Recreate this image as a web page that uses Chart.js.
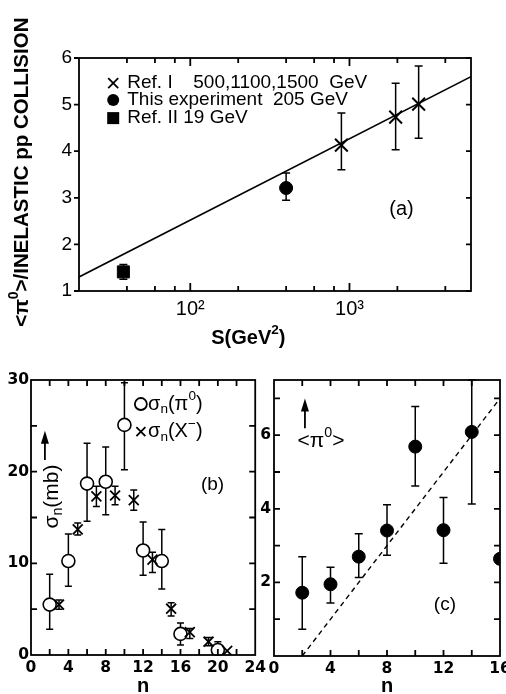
<!DOCTYPE html>
<html><head><meta charset="utf-8">
<script src="https://cdn.jsdelivr.net/npm/chart.js@4.4.1/dist/chart.umd.min.js"></script>
<style>
html,body{margin:0;padding:0;background:#fff;}
#wrap{position:relative;width:506px;height:694px;overflow:hidden;background:#fff;}
canvas{position:absolute;}
</style></head><body>
<div id="wrap">
<canvas id="ca" style="left:0;top:0"></canvas>
<canvas id="cb" style="left:0;top:340px"></canvas>
<canvas id="cc" style="left:258px;top:340px"></canvas>
</div>
<script>
// ---------- Panel (a) data ----------
const sRef1 = [890, 1950, 2720];
const piRef1 = [4.13, 4.73, 5.01];
const piRef1Lo = [3.60, 4.03, 4.28];
const piRef1Hi = [4.82, 5.46, 5.83];
const sThis = [400];
const piThis = [3.21];
const piThisLo = [2.95];
const piThisHi = [3.53];
const sRef2 = [38];
const piRef2 = [1.41];
const piRef2Lo = [1.25];
const piRef2Hi = [1.57];
const fitS = [20, 5800];
const fitPi = [1.30, 5.60];
const aYTicks = [1, 2, 3, 4, 5, 6];
const aXTicks = [100, 1000];
const aXLabels = ['10²', '10³'];
const aXMinor = [40, 60, 80, 200, 400, 600, 800, 2000, 4000];

// ---------- Panel (b) data ----------
const nPi0 = [2, 4, 6, 8, 10, 12, 14, 16, 20];
const sigPi0 = [5.5, 10.25, 18.7, 18.9, 25.1, 11.4, 10.25, 2.3, 0.55];
const sigPi0Lo = [2.8, 7.5, 14.6, 15.3, 20.2, 8.7, 7.2, 1.1, 0.0];
const sigPi0Hi = [8.8, 13.2, 23.1, 22.7, 29.7, 14.5, 13.7, 3.5, 1.45];
const nXm = [3, 5, 7, 9, 11, 13, 15, 17, 19, 21];
const sigXm = [5.5, 13.7, 17.3, 17.4, 16.9, 10.4, 5.05, 2.5, 1.45, 0.45];
const sigXmLo = [5.0, 13.1, 16.2, 16.4, 15.8, 9.0, 4.25, 1.8, 1.0, null];
const sigXmHi = [6.0, 14.4, 18.4, 18.4, 18.0, 11.2, 5.7, 2.9, 1.9, null];
const bXTicks = [0, 4, 8, 12, 16, 20, 24];
const bYTicks = [0, 10, 20, 30];

// ---------- Panel (c) data ----------
const nC = [2, 4, 6, 8, 10, 12, 14, 16];
const meanPi0 = [1.72, 1.95, 2.70, 3.41, 5.69, 3.42, 6.09, 2.64];
const meanPi0Lo = [0.73, 1.44, 2.13, 2.74, 4.62, 2.52, 4.13, null];
const meanPi0Hi = [2.70, 2.41, 3.32, 4.11, 6.78, 4.31, 7.50, null];
const lineN = [2, 16];
const lineMean = [0, 7];
const cXTicks = [0, 4, 8, 12, 16];
const cYTicks = [2, 4, 6];

const FONT = '"Liberation Sans", Arial, sans-serif';
const FONTB = '"DejaVu Sans", "Liberation Sans", sans-serif';
Chart.defaults.color = '#000';
Chart.defaults.font.family = FONT;

function pts(xs, ys) { return xs.map((x, i) => ({x: x, y: ys[i]})); }

// error bars drawn through the chart scales
const errorBars = {
  id: 'errorBars',
  beforeDatasetsDraw(chart) {
    const ctx = chart.ctx, xs = chart.scales.x, ys = chart.scales.y;
    ctx.save();
    ctx.strokeStyle = '#000';
    chart.data.datasets.forEach(ds => {
      if (!ds.errLo) return;
      ctx.lineWidth = ds.errWidth || 1.5;
      const cap = ds.errCap || 4;
      ds.data.forEach((p, i) => {
        const lo = ds.errLo[i], hi = ds.errHi[i];
        if (lo == null || hi == null) return;
        const x = xs.getPixelForValue(p.x);
        const y1 = ys.getPixelForValue(lo), y2 = ys.getPixelForValue(hi);
        ctx.beginPath();
        ctx.moveTo(x, y1); ctx.lineTo(x, y2);
        ctx.moveTo(x - cap, y1); ctx.lineTo(x + cap, y1);
        ctx.moveTo(x - cap, y2); ctx.lineTo(x + cap, y2);
        ctx.stroke();
      });
    });
    ctx.restore();
  }
};

// frame with inward ticks
function frameTicks(cfg) {
  return {
    id: 'frameTicks',
    afterDatasetsDraw(chart) {
      const ctx = chart.ctx, a = chart.chartArea, xs = chart.scales.x, ys = chart.scales.y;
      ctx.save();
      ctx.strokeStyle = '#000';
      ctx.lineWidth = cfg.lw;
      ctx.strokeRect(a.left, a.top, a.right - a.left, a.bottom - a.top);
      ctx.beginPath();
      cfg.x.forEach(v => {
        const px = xs.getPixelForValue(v);
        const L = (cfg.xMajor || []).indexOf(v) >= 0 ? cfg.majorLen : cfg.len;
        ctx.moveTo(px, a.bottom); ctx.lineTo(px, a.bottom - L);
        ctx.moveTo(px, a.top); ctx.lineTo(px, a.top + L);
      });
      cfg.y.forEach(v => {
        const py = ys.getPixelForValue(v);
        ctx.moveTo(a.left, py); ctx.lineTo(a.left + (cfg.leftOut ? -cfg.len : cfg.len), py);
        ctx.moveTo(a.right, py); ctx.lineTo(a.right - cfg.len, py);
      });
      ctx.stroke();
      ctx.restore();
    }
  };
}

function drawRich(ctx, segs, x, y, size, weight, family, align) {
  const parts = segs.map(s => {
    const small = s.sup || s.sub;
    const sz = small ? size * 0.68 : size;
    const f = weight + ' ' + sz + 'px ' + family;
    ctx.font = f;
    return {t: s.t, f: f, w: ctx.measureText(s.t).width, dy: s.sup ? -size * 0.38 : (s.sub ? size * 0.28 : 0)};
  });
  const total = parts.reduce((a, p) => a + p.w, 0);
  let cx = align === 'center' ? x - total / 2 : (align === 'right' ? x - total : x);
  ctx.textAlign = 'left';
  ctx.textBaseline = 'middle';
  parts.forEach(p => { ctx.font = p.f; ctx.fillText(p.t, cx, y + p.dy); cx += p.w; });
}

function drawMark(ctx, style, x, y, r) {
  ctx.save();
  ctx.strokeStyle = '#000'; ctx.fillStyle = '#000'; ctx.lineWidth = 1.8;
  ctx.beginPath();
  if (style === 'cross') {
    ctx.moveTo(x - r, y - r); ctx.lineTo(x + r, y + r);
    ctx.moveTo(x - r, y + r); ctx.lineTo(x + r, y - r);
    ctx.stroke();
  } else if (style === 'dot') {
    ctx.arc(x, y, r, 0, Math.PI * 2); ctx.fill();
  } else if (style === 'ring') {
    ctx.arc(x, y, r, 0, Math.PI * 2); ctx.stroke();
  } else if (style === 'square') {
    ctx.fillRect(x - r, y - r, 2 * r, 2 * r);
  }
  ctx.restore();
}

// annotations positioned in data coordinates
function notes(list) {
  return {
    id: 'notes',
    afterDraw(chart) {
      const ctx = chart.ctx, xs = chart.scales.x, ys = chart.scales.y;
      ctx.save();
      ctx.fillStyle = '#000';
      list.forEach(n => {
        const px = xs.getPixelForValue(n.x), py = ys.getPixelForValue(n.y);
        if (n.type === 'text') {
          if (n.rot) {
            ctx.save(); ctx.translate(px, py); ctx.rotate(-Math.PI / 2);
            drawRich(ctx, n.segs, 0, 0, n.size, n.weight || 'normal', n.family || FONT, n.align || 'center');
            ctx.restore();
          } else {
            drawRich(ctx, n.segs, px, py, n.size, n.weight || 'normal', n.family || FONT, n.align || 'left');
          }
        } else if (n.type === 'mark') {
          drawMark(ctx, n.style, px, py, n.r);
        } else if (n.type === 'arrow') {
          const tip = ys.getPixelForValue(n.y2);
          ctx.save();
          ctx.strokeStyle = '#000'; ctx.lineWidth = 1.8;
          ctx.beginPath(); ctx.moveTo(px, py); ctx.lineTo(px, tip + 8); ctx.stroke();
          ctx.beginPath(); ctx.moveTo(px, tip); ctx.lineTo(px - 4, tip + 13); ctx.lineTo(px + 4, tip + 13); ctx.closePath(); ctx.fill();
          ctx.restore();
        }
      });
      ctx.restore();
    }
  };
}

const common = {
  responsive: false, animation: false, devicePixelRatio: 1,
  plugins: {legend: {display: false}, tooltip: {enabled: false}}
};

function setSize(id, w, h) { const c = document.getElementById(id); c.width = w; c.height = h; c.style.width = w + 'px'; c.style.height = h + 'px'; return c; }

// ---------- Chart (a) ----------
new Chart(setSize('ca', 506, 360), {
  type: 'scatter',
  data: {datasets: [
    {type: 'line', data: pts(fitS, fitPi), borderColor: '#000', borderWidth: 1.6, pointRadius: 0, fill: false},
    {data: pts(sRef1, piRef1), pointStyle: 'crossRot', pointRadius: 9, borderColor: '#000', borderWidth: 2, errLo: piRef1Lo, errHi: piRef1Hi, errCap: 4},
    {data: pts(sThis, piThis), pointStyle: 'circle', pointRadius: 6.5, backgroundColor: '#000', borderColor: '#000', errLo: piThisLo, errHi: piThisHi, errCap: 4},
    {data: pts(sRef2, piRef2), pointStyle: 'rect', pointRadius: 8.5, backgroundColor: '#000', borderColor: '#000', errLo: piRef2Lo, errHi: piRef2Hi, errCap: 4}
  ]},
  options: Object.assign({}, common, {
    layout: {padding: {top: 58, right: 35, left: 0, bottom: 0}},
    scales: {
      x: {type: 'logarithmic', min: 20, max: 5800,
        grid: {display: false, drawTicks: false}, border: {display: false},
        afterBuildTicks: s => { s.ticks = aXTicks.map(v => ({value: v})); },
        ticks: {autoSkip: false, maxRotation: 0, padding: 6, font: {size: 20, family: FONT},
          callback: v => { const i = aXTicks.indexOf(v); return i >= 0 ? aXLabels[i] : ''; }},
        afterFit: s => { s.height = 69; }
      },
      y: {min: 1, max: 6,
        grid: {display: false, drawTicks: false}, border: {display: false},
        afterBuildTicks: s => { s.ticks = aYTicks.map(v => ({value: v})); },
        ticks: {padding: 7, font: {size: 19, family: FONT}},
        afterFit: s => { s.width = 79; }
      }
    }
  }),
  plugins: [errorBars,
    frameTicks({lw: 1.8, len: 5, majorLen: 8, leftOut: true, x: aXMinor.concat(aXTicks), xMajor: aXTicks, y: aYTicks}),
    notes([
      {type: 'mark', style: 'cross', x: 32.8, y: 5.46, r: 5},
      {type: 'mark', style: 'dot', x: 32.8, y: 5.10, r: 6},
      {type: 'mark', style: 'square', x: 32.8, y: 4.71, r: 6},
      {type: 'text', x: 40.2, y: 5.46, segs: [{t: 'Ref. I'}], size: 19},
      {type: 'text', x: 104.4, y: 5.46, segs: [{t: '500,1100,1500  GeV'}], size: 19},
      {type: 'text', x: 40.2, y: 5.10, segs: [{t: 'This experiment  205 GeV'}], size: 19},
      {type: 'text', x: 40.2, y: 4.71, segs: [{t: 'Ref. II 19 GeV'}], size: 19},
      {type: 'text', x: 2123, y: 2.74, segs: [{t: '(a)'}], size: 20, align: 'center'},
      {type: 'text', x: 231.8, y: -0.01, segs: [{t: 'S(GeV'}, {t: '2', sup: true}, {t: ')'}], size: 20, weight: 'bold', align: 'center'},
      {type: 'text', x: 8.77, y: 3.55, rot: true, segs: [{t: '<π'}, {t: '0', sup: true}, {t: '>/INELASTIC pp COLLISION'}], size: 20.5, weight: 'bold', align: 'center'}
    ])]
});

// ---------- Chart (b) ----------
new Chart(setSize('cb', 270, 354), {
  type: 'scatter',
  data: {datasets: [
    {data: pts(nXm, sigXm), pointStyle: 'crossRot', pointRadius: 7, borderColor: '#000', borderWidth: 1.8, errLo: sigXmLo, errHi: sigXmHi, errCap: 3.5},
    {data: pts(nPi0, sigPi0), pointStyle: 'circle', pointRadius: 6.5, backgroundColor: '#fff', borderColor: '#000', borderWidth: 1.6, errLo: sigPi0Lo, errHi: sigPi0Hi, errCap: 3.5}
  ]},
  options: Object.assign({}, common, {
    layout: {padding: {top: 40, right: 13, left: 0, bottom: 0}},
    scales: {
      x: {min: 0, max: 24,
        grid: {display: false, drawTicks: false}, border: {display: false},
        afterBuildTicks: s => { s.ticks = bXTicks.map(v => ({value: v})); },
        ticks: {autoSkip: false, maxRotation: 0, padding: 4, font: {size: 15.5, weight: 'bold', family: FONTB}},
        title: {display: true, text: 'n', padding: 0, font: {size: 20, weight: 'bold', family: FONT, lineHeight: 0.8}},
        afterFit: s => { s.height = 39; }
      },
      y: {min: 0, max: 30,
        grid: {display: false, drawTicks: false}, border: {display: false},
        afterBuildTicks: s => { s.ticks = bYTicks.map(v => ({value: v})); },
        ticks: {padding: 2, font: {size: 15.5, weight: 'bold', family: FONTB}},
        afterFit: s => { s.width = 31; }
      }
    }
  }),
  plugins: [errorBars,
    frameTicks({lw: 1.8, len: 6, majorLen: 6, x: [2, 4, 6, 8, 10, 12, 14, 16, 18, 20, 22], y: [5, 10, 15, 20, 25]}),
    notes([
      {type: 'mark', style: 'ring', x: 11.76, y: 27.38, r: 6},
      {type: 'text', x: 12.53, y: 27.38, segs: [{t: 'σ'}, {t: 'n', sub: true}, {t: '(π'}, {t: '0', sup: true}, {t: ')'}], size: 20},
      {type: 'mark', style: 'cross', x: 11.76, y: 24.36, r: 4.5},
      {type: 'text', x: 12.53, y: 24.36, segs: [{t: 'σ'}, {t: 'n', sub: true}, {t: '(X'}, {t: '−', sup: true}, {t: ')'}], size: 20},
      {type: 'text', x: 19.43, y: 18.55, segs: [{t: '(b)'}], size: 19, align: 'center'},
      {type: 'arrow', x: 1.49, y: 21.27, y2: 24.47},
      {type: 'text', x: 2.23, y: 17.29, rot: true, segs: [{t: 'σ'}, {t: 'n', sub: true}, {t: '(mb)'}], size: 21, align: 'center'}
    ])]
});

// ---------- Chart (c) ----------
new Chart(setSize('cc', 262, 354), {
  type: 'scatter',
  data: {datasets: [
    {type: 'line', data: pts(lineN, lineMean), borderColor: '#000', borderWidth: 1.4, borderDash: [5, 4], pointRadius: 0, fill: false},
    {data: pts(nC, meanPi0), pointStyle: 'circle', pointRadius: 6.5, backgroundColor: '#000', borderColor: '#000', errLo: meanPi0Lo, errHi: meanPi0Hi, errCap: 4}
  ]},
  options: Object.assign({}, common, {
    layout: {padding: {top: 40, right: 20, left: 0, bottom: 0}},
    scales: {
      x: {min: 0, max: 16,
        grid: {display: false, drawTicks: false}, border: {display: false},
        afterBuildTicks: s => { s.ticks = cXTicks.map(v => ({value: v})); },
        ticks: {autoSkip: false, maxRotation: 0, padding: 4, font: {size: 15.5, weight: 'bold', family: FONTB}},
        title: {display: true, text: 'n', padding: 0, font: {size: 20, weight: 'bold', family: FONT, lineHeight: 0.8}},
        afterFit: s => { s.height = 38; }
      },
      y: {min: 0, max: 7.5,
        grid: {display: false, drawTicks: false}, border: {display: false},
        afterBuildTicks: s => { s.ticks = cYTicks.map(v => ({value: v})); },
        ticks: {padding: 3, font: {size: 15.5, weight: 'bold', family: FONTB}},
        afterFit: s => { s.width = 16; }
      }
    }
  }),
  plugins: [errorBars,
    frameTicks({lw: 1.8, len: 6, majorLen: 6, x: [2, 4, 6, 8, 10, 12, 14], y: [1, 2, 3, 4, 5, 6, 7]}),
    notes([
      {type: 'arrow', x: 2.19, y: 6.19, y2: 7.0},
      {type: 'text', x: 3.33, y: 5.84, segs: [{t: '<π'}, {t: '0', sup: true}, {t: '>'}], size: 21, align: 'center'},
      {type: 'text', x: 12.1, y: 1.38, segs: [{t: '(c)'}], size: 19, align: 'center'}
    ])]
});
</script>
</body></html>
